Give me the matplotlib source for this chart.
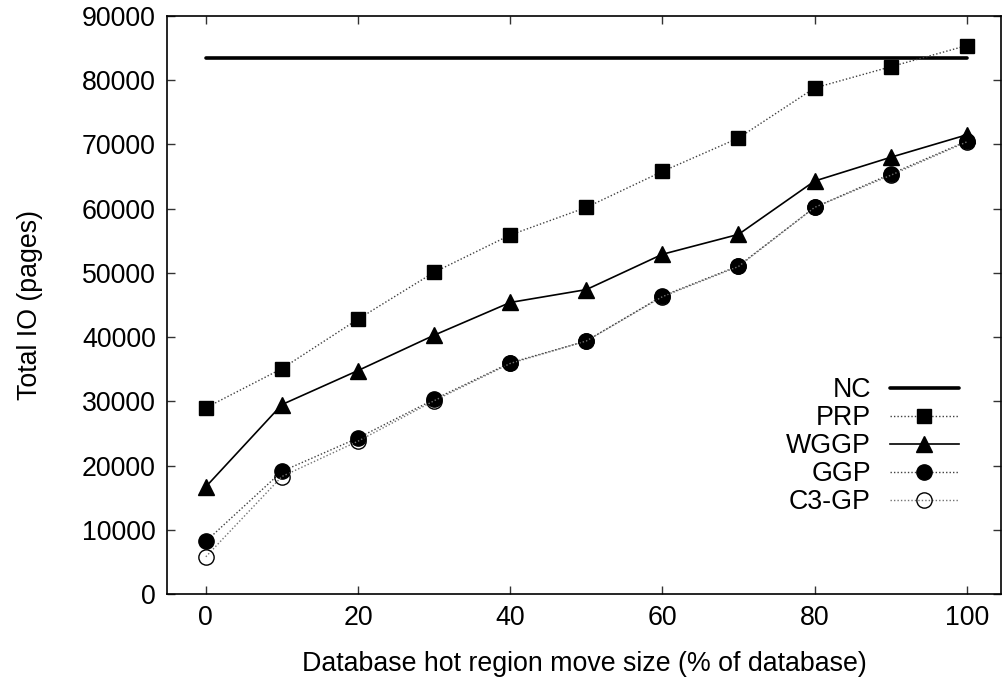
import matplotlib
matplotlib.use("Agg")
import matplotlib.pyplot as plt

plt.rcParams['font.family'] = ['Liberation Sans', 'DejaVu Sans']

x = [0, 10, 20, 30, 40, 50, 60, 70, 80, 90, 100]
nc = [83400] * 11
prp = [29000, 35100, 42800, 50100, 55900, 60200, 65800, 71000, 78800, 82100, 85400]
wggp = [16700, 29500, 34800, 40300, 45400, 47400, 52900, 56000, 64300, 68000, 71500]
ggp = [8200, 19100, 24300, 30300, 36000, 39400, 46400, 51100, 60200, 65400, 70500]
c3gp = [5800, 18300, 23800, 30100, 35900, 39400, 46300, 51000, 60200, 65200, 70400]

xticks = [0, 20, 40, 60, 80, 100]
yticks = list(range(0, 90001, 10000))

fig = plt.figure(figsize=(10.05, 6.85), dpi=100)
ax = fig.add_axes([0.1662, 0.1328, 0.8298, 0.8438])

fs = 19.3
ax.plot(x, nc, color='black', lw=2.6, label='NC', solid_capstyle='round')
ax.plot(x, prp, color='0.25', lw=1.0, ls=(0, (1, 1.5)), marker='s', ms=10.5,
        mfc='black', mec='black', label='PRP')
ax.plot(x, wggp, color='black', lw=1.2, ls='-', marker='^', ms=11,
        mfc='black', mec='black', label='WGGP')
ax.plot(x, ggp, color='0.25', lw=1.0, ls=(0, (1, 1.5)), marker='o', ms=11,
        mfc='black', mec='black', label='GGP')
ax.plot(x, c3gp, color='0.45', lw=1.0, ls=(0, (1, 1.5)), marker='o', ms=11,
        mfc='none', mec='black', mew=1.0, label='C3-GP')

ax.set_xlim(-5.1, 104.5)
ax.set_ylim(0, 90000)
ax.set_xticks(xticks)
ax.set_yticks(yticks)
ax.tick_params(direction='in', length=6, width=1, top=True, right=True,
               labelsize=fs, pad=8, color='0.2')
for s in ax.spines.values():
    s.set_linewidth(1.2)

ax.set_xlabel('Database hot region move size (% of database)', fontsize=fs, labelpad=14)
ax.set_ylabel('Total IO (pages)', fontsize=fs, labelpad=28)

leg = ax.legend(loc='lower right', bbox_to_anchor=(0.966, 0.113), frameon=False,
                markerfirst=False, fontsize=fs, handlelength=2.6, handletextpad=0.7,
                labelspacing=0.075, numpoints=1, borderpad=0)

fig.savefig('out.png', dpi=100)
